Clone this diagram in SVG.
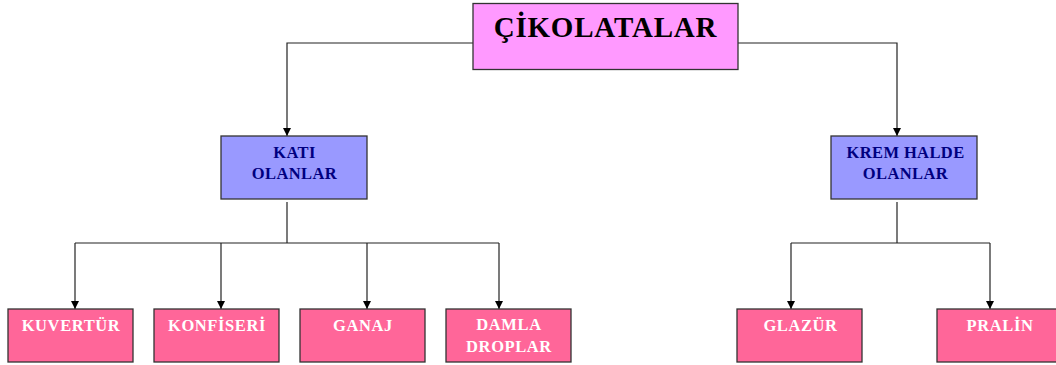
<svg xmlns="http://www.w3.org/2000/svg" width="1056" height="365" viewBox="0 0 1056 365">
<defs>
<style>
.box{stroke:#333;stroke-width:1.3}
.top{fill:#FF99FF}
.mid{fill:#9999FF}
.leaf{fill:#FF6699}
.ln{fill:none;stroke:#222;stroke-width:1.2}
text{font-family:"Liberation Serif","Times New Roman",serif;font-weight:bold;text-anchor:middle}
.tt{font-size:29px;fill:#000;letter-spacing:0.8px}
.mt{font-size:16.5px;fill:#000080;letter-spacing:0.4px}
.lt{font-size:16.5px;fill:#fff;letter-spacing:0.6px}
</style>
<marker id="ah" viewBox="0 0 10 10" refX="10" refY="5" markerWidth="8" markerHeight="8" markerUnits="userSpaceOnUse" orient="auto">
<path d="M0,0 L10,5 L0,10 z" fill="#000"/>
</marker>
</defs>
<rect width="1056" height="365" fill="#fff"/>
<g id="connectors">
<path class="ln" d="M473,43 H287 V136" marker-end="url(#ah)"/>
<path class="ln" d="M738,43 H897 V136" marker-end="url(#ah)"/>
<path class="ln" d="M287,202 V243"/>
<path class="ln" d="M75,243 H499"/>
<path class="ln" d="M75,243 V309" marker-end="url(#ah)"/>
<path class="ln" d="M221,243 V309" marker-end="url(#ah)"/>
<path class="ln" d="M367,243 V309" marker-end="url(#ah)"/>
<path class="ln" d="M499,243 V309" marker-end="url(#ah)"/>
<path class="ln" d="M897,202 V243"/>
<path class="ln" d="M791,243 H990"/>
<path class="ln" d="M791,243 V309" marker-end="url(#ah)"/>
<path class="ln" d="M990,243 V309" marker-end="url(#ah)"/>
</g>
<g id="cikolatalar">
<rect class="box top" x="473" y="3.5" width="265" height="66"/>
<text class="tt" x="605.5" y="36.5">ÇİKOLATALAR</text>
</g>
<g id="kati">
<rect class="box mid" x="221" y="136" width="146" height="63"/>
<text class="mt" x="294.5" y="158">KATI</text>
<text class="mt" x="294.5" y="179">OLANLAR</text>
</g>
<g id="krem">
<rect class="box mid" x="831" y="136" width="146" height="63"/>
<text class="mt" x="905.5" y="158">KREM HALDE</text>
<text class="mt" x="905.5" y="179">OLANLAR</text>
</g>
<g id="kuvertur">
<rect class="box leaf" x="8" y="309" width="125" height="53"/>
<text class="lt" x="71" y="331">KUVERTÜR</text>
</g>
<g id="konfiseri">
<rect class="box leaf" x="154" y="309" width="125" height="53"/>
<text class="lt" x="217" y="331">KONFİSERİ</text>
</g>
<g id="ganaj">
<rect class="box leaf" x="300" y="309" width="125" height="53"/>
<text class="lt" x="363" y="331">GANAJ</text>
</g>
<g id="damla">
<rect class="box leaf" x="446" y="309" width="125" height="53"/>
<text class="lt" x="509" y="330">DAMLA</text>
<text class="lt" x="509" y="351.5">DROPLAR</text>
</g>
<g id="glazur">
<rect class="box leaf" x="737" y="309" width="125" height="53"/>
<text class="lt" x="800.5" y="331">GLAZÜR</text>
</g>
<g id="pralin">
<rect class="box leaf" x="937" y="309" width="125" height="53"/>
<text class="lt" x="1000" y="331">PRALİN</text>
</g>
</svg>
